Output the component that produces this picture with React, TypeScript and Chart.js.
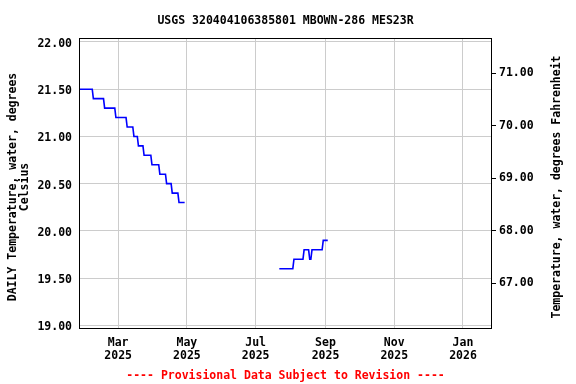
import React, { useEffect, useRef } from "react";
import { Chart, registerables } from "chart.js";

Chart.register(...registerables);

const chartTitle = "USGS 320404106385801 MBOWN-286 MES23R";
const footerText = "---- Provisional Data Subject to Revision ----";
const leftAxisTitle = ["DAILY Temperature, water, degrees", "Celsius"];
const rightAxisTitle = "Temperature, water, degrees Fahrenheit";

// Segment 1: daily values starting at seg1Start
const seg1Start = "2025-01-26";
const seg1Values = [
  21.5, 21.5, 21.5, 21.5, 21.5, 21.5, 21.5, 21.5, 21.5, 21.5, 21.5, 21.5,
  21.4, 21.4, 21.4, 21.4, 21.4, 21.4, 21.4, 21.4, 21.4, 21.4,
  21.3, 21.3, 21.3, 21.3, 21.3, 21.3, 21.3, 21.3, 21.3, 21.3,
  21.2, 21.2, 21.2, 21.2, 21.2, 21.2, 21.2, 21.2, 21.2, 21.2,
  21.1, 21.1, 21.1, 21.1, 21.1, 21.1,
  21.0, 21.0, 21.0, 21.0,
  20.9, 20.9, 20.9, 20.9, 20.9,
  20.8, 20.8, 20.8, 20.8, 20.8, 20.8, 20.8,
  20.7, 20.7, 20.7, 20.7, 20.7, 20.7, 20.7,
  20.6, 20.6, 20.6, 20.6, 20.6, 20.6,
  20.5, 20.5, 20.5, 20.5, 20.5,
  20.4, 20.4, 20.4, 20.4, 20.4, 20.4,
  20.3, 20.3, 20.3, 20.3, 20.3, 20.3,
];

// Segment 2: daily values starting at seg2Start
const seg2Start = "2025-07-22";
const seg2Values = [
  19.6, 19.6, 19.6, 19.6, 19.6, 19.6, 19.6, 19.6, 19.6, 19.6, 19.6, 19.6, 19.6,
  19.7, 19.7, 19.7, 19.7, 19.7, 19.7, 19.7, 19.7, 19.7,
  19.8, 19.8, 19.8, 19.8, 19.8,
  19.7, 19.7,
  19.8, 19.8, 19.8, 19.8, 19.8, 19.8, 19.8, 19.8, 19.8, 19.8,
  19.9, 19.9, 19.9, 19.9, 19.9,
];

const xTickDates = ["2025-03-01", "2025-05-01", "2025-07-01", "2025-09-01", "2025-11-01", "2026-01-01"];
const xMinDate = "2025-01-25T06:00:00Z";
const xMaxDate = "2026-01-26T18:00:00Z";

const leftTicks = [19.0, 19.5, 20.0, 20.5, 21.0, 21.5, 22.0];
const rightTicks = [67, 68, 69, 70, 71];
const leftMin = 18.972;
const leftMax = 22.042;

const monthNames = ["Jan", "Feb", "Mar", "Apr", "May", "Jun", "Jul", "Aug", "Sep", "Oct", "Nov", "Dec"];
const DAY = 86400000;
const FONT = "'DejaVu Sans Mono', monospace";

function toPoints(start: string, values: number[]) {
  const t0 = Date.parse(start + "T00:00:00Z");
  return values.map((v, i) => ({ x: t0 + i * DAY, y: v }));
}

const textPlugin = {
  id: "textPlugin",
  afterDraw(chart: any) {
    const ctx = chart.ctx;
    const a = chart.chartArea;
    ctx.save();
    ctx.strokeStyle = "#000";
    ctx.lineWidth = 1;
    ctx.strokeRect(Math.round(a.left) + 0.5, Math.round(a.top) + 0.5, Math.round(a.right - a.left) - 1, Math.round(a.bottom - a.top));
    const cx = (a.left + a.right) / 2;
    ctx.fillStyle = "#000";
    ctx.font = "bold 11.5px " + FONT;
    ctx.textAlign = "center";
    ctx.textBaseline = "middle";
    ctx.fillText(chartTitle, cx, 21);
    ctx.fillStyle = "#ff0000";
    ctx.fillText(footerText, cx, 376);
    ctx.fillStyle = "#000";
    const cy = 187;
    ctx.save();
    ctx.translate(13, cy);
    ctx.rotate(-Math.PI / 2);
    ctx.fillText(leftAxisTitle[0], 0, 0);
    ctx.restore();
    ctx.save();
    ctx.translate(25, cy);
    ctx.rotate(-Math.PI / 2);
    ctx.fillText(leftAxisTitle[1], 0, 0);
    ctx.restore();
    ctx.save();
    ctx.translate(557, cy);
    ctx.rotate(-Math.PI / 2);
    ctx.fillText(rightAxisTitle, 0, 0);
    ctx.restore();
    ctx.restore();
  },
};

export default function App() {
  const ref = useRef<HTMLCanvasElement>(null);
  useEffect(() => {
    if (!ref.current) return;
    const tickFont = { family: FONT, size: 11.5, weight: "bold" as const, lineHeight: 1.12 };
    const chart = new Chart(ref.current, {
      type: "line",
      data: {
        datasets: [
          {
            data: toPoints(seg1Start, seg1Values),
            borderColor: "#0000ff",
            borderWidth: 1.6,
            pointRadius: 0,
            tension: 0,
            fill: false,
          },
          {
            data: toPoints(seg2Start, seg2Values),
            borderColor: "#0000ff",
            borderWidth: 1.6,
            pointRadius: 0,
            tension: 0,
            fill: false,
          },
        ],
      },
      options: {
        animation: false,
        responsive: false,
        devicePixelRatio: 1,
        layout: { padding: { top: 38, left: 0, right: 0, bottom: 0 } },
        plugins: { legend: { display: false }, title: { display: false }, tooltip: { enabled: false } },
        scales: {
          x: {
            type: "linear",
            min: Date.parse(xMinDate),
            max: Date.parse(xMaxDate),
            afterBuildTicks: (s: any) => {
              s.ticks = xTickDates.map((d) => ({ value: Date.parse(d + "T00:00:00Z") }));
            },
            afterFit: (s: any) => {
              s.height = 56;
            },
            grid: { color: "#cccccc", drawTicks: false },
            border: { display: false },
            ticks: {
              color: "#000",
              font: tickFont,
              padding: 9,
              maxRotation: 0,
              autoSkip: false,
              callback: (v: any) => {
                const d = new Date(Number(v));
                return [monthNames[d.getUTCMonth()], String(d.getUTCFullYear())];
              },
            },
          },
          y: {
            type: "linear",
            position: "left",
            min: leftMin,
            max: leftMax,
            afterBuildTicks: (s: any) => {
              s.ticks = leftTicks.map((v) => ({ value: v }));
            },
            afterFit: (s: any) => {
              s.width = 79;
            },
            grid: { color: "#cccccc", drawTicks: false },
            border: { display: false },
            ticks: {
              color: "#000",
              font: tickFont,
              padding: 7,
              labelOffset: 2,
              callback: (v: any) => Number(v).toFixed(2),
            },
          },
          y2: {
            type: "linear",
            position: "right",
            min: leftMin * 1.8 + 32,
            max: leftMax * 1.8 + 32,
            afterBuildTicks: (s: any) => {
              s.ticks = rightTicks.map((v) => ({ value: v }));
            },
            afterFit: (s: any) => {
              s.width = 84;
            },
            grid: { drawOnChartArea: false, color: "#000", drawTicks: true, tickLength: 4 },
            border: { display: false },
            ticks: {
              color: "#000",
              font: tickFont,
              padding: 3,
              callback: (v: any) => Number(v).toFixed(2),
            },
          },
        },
      },
      plugins: [textPlugin],
    });
    return () => chart.destroy();
  }, []);
  return (
    <div style={{ position: "absolute", left: 0, top: 0, width: 576, height: 384, background: "#fff" }}>
      <canvas ref={ref} width={576} height={384} />
    </div>
  );
}
